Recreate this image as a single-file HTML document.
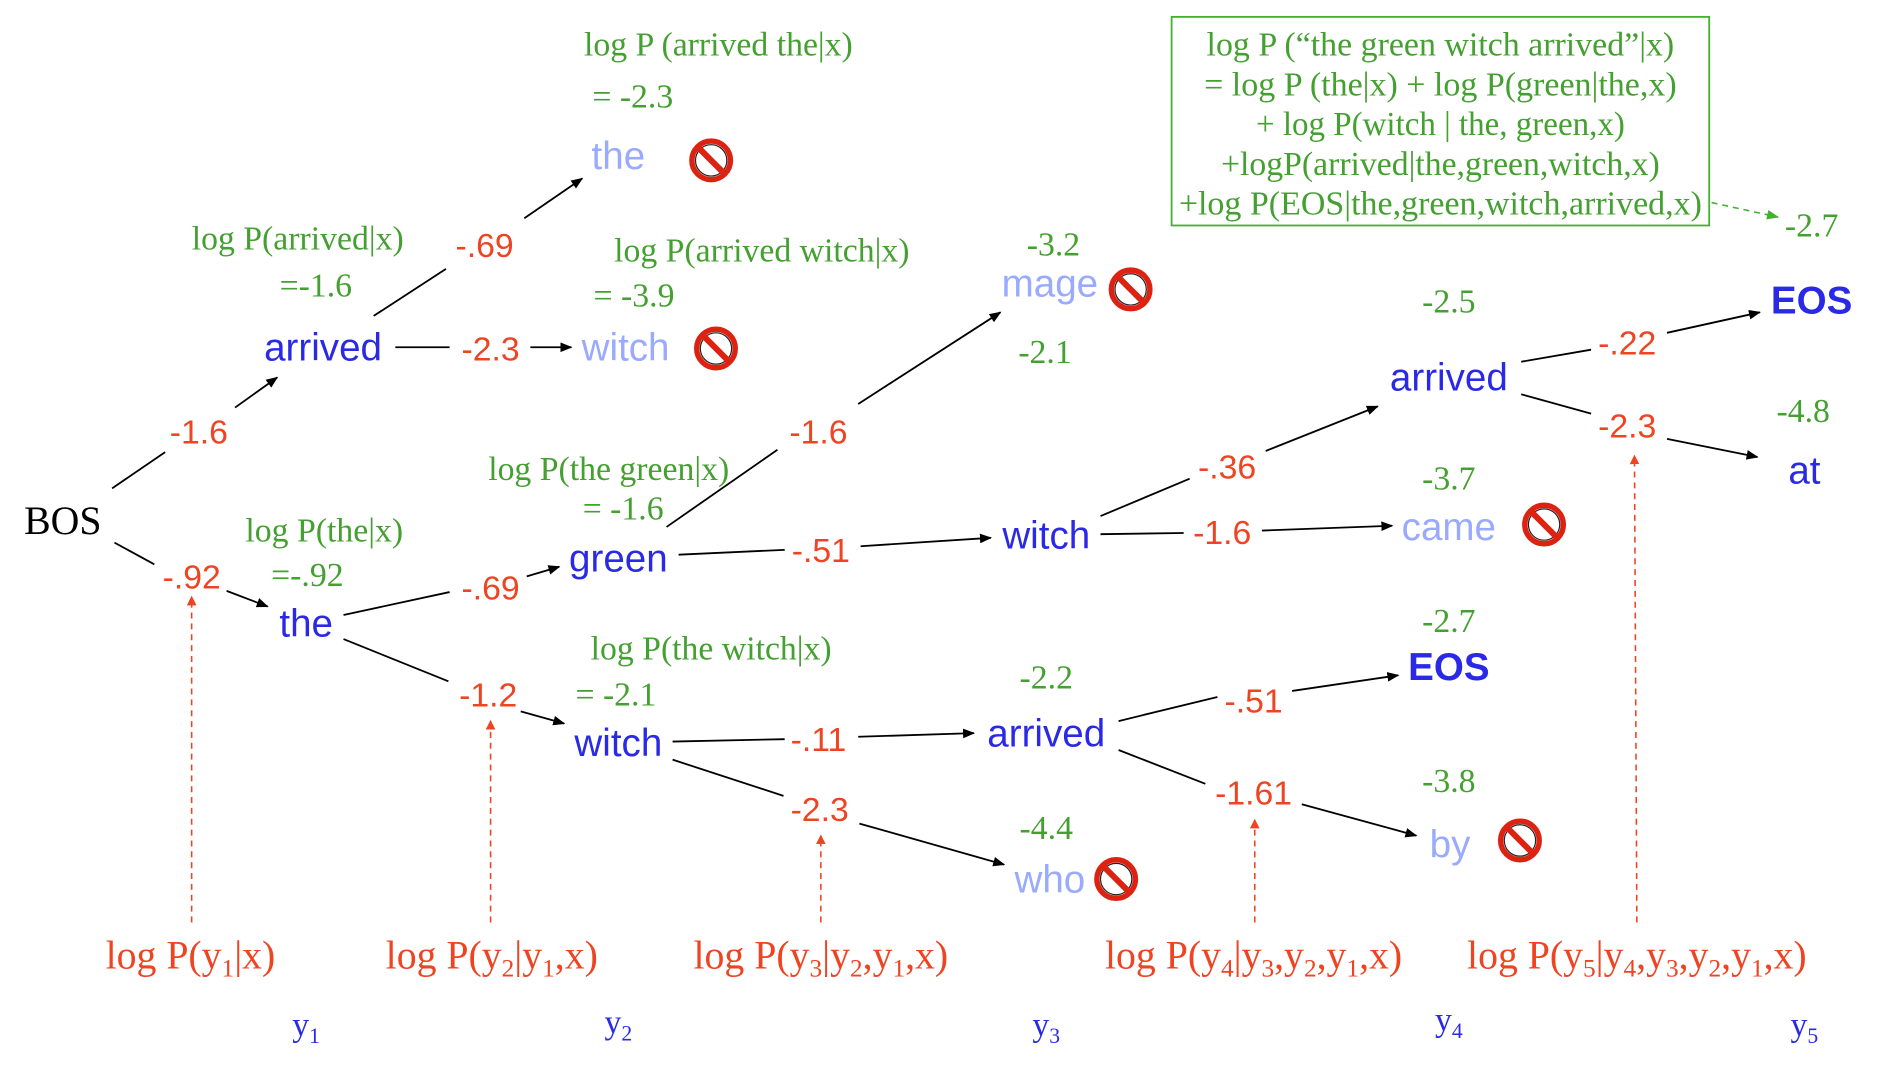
<!DOCTYPE html>
<html><head><meta charset="utf-8"><style>
html,body{margin:0;padding:0;background:#fff;}
svg{display:block;}
.n{font-family:"Liberation Sans",sans-serif;font-size:32px;fill:#2a2ae6;text-anchor:middle;}
.l{fill:#99aaff;}
.b{font-weight:bold;}
.r{font-family:"Liberation Sans",sans-serif;font-size:28px;fill:#ee4422;text-anchor:middle;}
.g{font-family:"Liberation Serif",serif;font-size:28px;fill:#44a030;text-anchor:middle;}
.rb{font-family:"Liberation Serif",serif;font-size:33px;fill:#ee4422;text-anchor:middle;}
.y{font-family:"Liberation Serif",serif;font-size:28px;fill:#2a2ae6;text-anchor:middle;}
.e{stroke:#000;stroke-width:1.5;fill:none;}
.a{stroke:#000;stroke-width:1.5;fill:none;marker-end:url(#ah);}
.d{stroke:#ee4422;stroke-width:1.3;stroke-dasharray:5,4;fill:none;marker-end:url(#ahr);}
</style></head><body>
<svg width="1890" height="1078" viewBox="0 0 1568 894" preserveAspectRatio="none" xmlns="http://www.w3.org/2000/svg">
<defs>
<marker id="ah" markerWidth="10" markerHeight="8" refX="9" refY="4" orient="auto" markerUnits="userSpaceOnUse"><path d="M0,0 L10,4 L0,8 Z" fill="#000"/></marker>
<marker id="ahr" markerWidth="8" markerHeight="8" refX="7" refY="4" orient="auto" markerUnits="userSpaceOnUse"><path d="M0,0 L8,4 L0,8 Z" fill="#ee4422"/></marker>
<marker id="ahg" markerWidth="10" markerHeight="8" refX="9" refY="4" orient="auto" markerUnits="userSpaceOnUse"><path d="M0,0 L10,4 L0,8 Z" fill="#44b030"/></marker>
<g id="no"><circle r="16" fill="#fff" stroke="#dd2211" stroke-width="4.5"/><circle r="13" fill="none" stroke="#222" stroke-width="1"/><line x1="-10" y1="-10" x2="10" y2="10" stroke="#dd2211" stroke-width="5"/></g>
</defs>

<line class="e" x1="93" y1="405" x2="137" y2="375"/><line class="a" x1="195" y1="338" x2="230" y2="313"/>
<line class="e" x1="95" y1="450" x2="128" y2="468"/><line class="a" x1="188" y1="490" x2="222" y2="503"/>
<line class="e" x1="310" y1="262" x2="370" y2="223"/><line class="a" x1="435" y1="181" x2="483" y2="148"/>
<line class="e" x1="328" y1="288" x2="373" y2="288"/><line class="a" x1="440" y1="288" x2="474" y2="288"/>
<line class="e" x1="285" y1="510" x2="373" y2="491"/><line class="a" x1="437" y1="478" x2="464" y2="470"/>
<line class="e" x1="285" y1="530" x2="372" y2="565"/><line class="a" x1="432" y1="590" x2="468" y2="600"/>
<line class="e" x1="553" y1="437" x2="645" y2="373"/><line class="a" x1="712" y1="335" x2="830" y2="259"/>
<line class="e" x1="563" y1="460" x2="651" y2="456"/><line class="a" x1="714" y1="453" x2="822" y2="446"/>
<line class="e" x1="558" y1="615" x2="651" y2="613"/><line class="a" x1="712" y1="611" x2="808" y2="608"/>
<line class="e" x1="558" y1="630" x2="650" y2="660"/><line class="a" x1="713" y1="683" x2="833" y2="717"/>
<line class="e" x1="913" y1="428" x2="987" y2="397"/><line class="a" x1="1050" y1="374" x2="1143" y2="337"/>
<line class="e" x1="913" y1="443" x2="982" y2="442"/><line class="a" x1="1047" y1="440" x2="1155" y2="436"/>
<line class="e" x1="928" y1="598" x2="1010" y2="578"/><line class="a" x1="1072" y1="573" x2="1160" y2="560"/>
<line class="e" x1="928" y1="622" x2="1000" y2="650"/><line class="a" x1="1080" y1="667" x2="1175" y2="693"/>
<line class="e" x1="1262" y1="300" x2="1320" y2="290"/><line class="a" x1="1383" y1="276" x2="1460" y2="259"/>
<line class="e" x1="1262" y1="327" x2="1320" y2="343"/><line class="a" x1="1383" y1="364" x2="1458" y2="379"/>
<line x1="1420" y1="168" x2="1475" y2="180" stroke="#44b030" stroke-width="1.3" stroke-dasharray="5,4" marker-end="url(#ahg)"/>

<line class="d" x1="159" y1="765" x2="159" y2="495"/>
<line class="d" x1="407" y1="765" x2="407" y2="598"/>
<line class="d" x1="681" y1="765" x2="681" y2="693"/>
<line class="d" x1="1041" y1="765" x2="1041" y2="680"/>
<line class="d" x1="1358" y1="765" x2="1356" y2="378"/>

<text x="20" y="443" font-family="Liberation Serif,serif" font-size="33" fill="#000">BOS</text>
<text class="n" x="268" y="299">arrived</text>
<text class="n" x="254" y="528">the</text>
<text class="n l" x="513" y="140">the</text>
<text class="n l" x="519" y="299">witch</text>
<text class="n" x="513" y="474">green</text>
<text class="n" x="513" y="627">witch</text>
<text class="n l" x="871" y="246">mage</text>
<text class="n" x="868" y="455">witch</text>
<text class="n" x="868" y="619">arrived</text>
<text class="n l" x="871" y="740">who</text>
<text class="n" x="1202" y="324">arrived</text>
<text class="n l" x="1202" y="448">came</text>
<text class="n b" x="1202" y="564">EOS</text>
<text class="n l" x="1203" y="711">by</text>
<text class="n b" x="1503" y="260">EOS</text>
<text class="n" x="1497" y="401">at</text>

<use href="#no" x="590" y="133"/><use href="#no" x="594" y="289"/><use href="#no" x="938" y="240"/>
<use href="#no" x="1281" y="435"/><use href="#no" x="926" y="729"/><use href="#no" x="1261" y="697"/>

<text class="r" x="165" y="368">-1.6</text>
<text class="r" x="159" y="488">-.92</text>
<text class="r" x="402" y="213">-.69</text>
<text class="r" x="407" y="299">-2.3</text>
<text class="r" x="407" y="497">-.69</text>
<text class="r" x="405" y="586">-1.2</text>
<text class="r" x="679" y="368">-1.6</text>
<text class="r" x="681" y="466">-.51</text>
<text class="r" x="679" y="623">-.11</text>
<text class="r" x="680" y="681">-2.3</text>
<text class="r" x="1018" y="397">-.36</text>
<text class="r" x="1014" y="451">-1.6</text>
<text class="r" x="1040" y="591">-.51</text>
<text class="r" x="1040" y="667">-1.61</text>
<text class="r" x="1350" y="294">-.22</text>
<text class="r" x="1350" y="363">-2.3</text>

<text class="g" x="596" y="46">log P (arrived the|x)</text>
<text class="g" x="525" y="89">= -2.3</text>
<text class="g" x="247" y="207">log P(arrived|x)</text>
<text class="g" x="262" y="246">=-1.6</text>
<text class="g" x="632" y="217">log P(arrived witch|x)</text>
<text class="g" x="526" y="254">= -3.9</text>
<text class="g" x="874" y="212">-3.2</text>
<text class="g" x="867" y="301">-2.1</text>
<text class="g" x="505" y="398">log P(the green|x)</text>
<text class="g" x="517" y="431">= -1.6</text>
<text class="g" x="269" y="449">log P(the|x)</text>
<text class="g" x="255" y="486">=-.92</text>
<text class="g" x="590" y="547">log P(the witch|x)</text>
<text class="g" x="511" y="585">= -2.1</text>
<text class="g" x="868" y="571">-2.2</text>
<text class="g" x="868" y="696">-4.4</text>
<text class="g" x="1202" y="259">-2.5</text>
<text class="g" x="1202" y="406">-3.7</text>
<text class="g" x="1202" y="524">-2.7</text>
<text class="g" x="1202" y="657">-3.8</text>
<text class="g" x="1496" y="350">-4.8</text>
<text class="g" x="1503" y="196">-2.7</text>

<rect x="972" y="14" width="446" height="173" fill="none" stroke="#44b030" stroke-width="1.5"/>
<text class="g" x="1195" y="46" textLength="388" lengthAdjust="spacingAndGlyphs">log P (“the green witch arrived”|x)</text>
<text class="g" x="1195" y="79" textLength="392" lengthAdjust="spacingAndGlyphs">= log P (the|x) + log P(green|the,x)</text>
<text class="g" x="1195" y="112" textLength="306" lengthAdjust="spacingAndGlyphs">+ log P(witch | the, green,x)</text>
<text class="g" x="1195" y="145" textLength="364" lengthAdjust="spacingAndGlyphs">+logP(arrived|the,green,witch,x)</text>
<text class="g" x="1195" y="178" textLength="434" lengthAdjust="spacingAndGlyphs">+log P(EOS|the,green,witch,arrived,x)</text>

<text class="rb" x="158" y="803">log P(y<tspan font-size="21" dy="7">1</tspan><tspan dy="-7">|x)</tspan></text>
<text class="rb" x="408" y="803">log P(y<tspan font-size="21" dy="7">2</tspan><tspan dy="-7">|y</tspan><tspan font-size="21" dy="7">1</tspan><tspan dy="-7">,x)</tspan></text>
<text class="rb" x="681" y="803">log P(y<tspan font-size="21" dy="7">3</tspan><tspan dy="-7">|y</tspan><tspan font-size="21" dy="7">2</tspan><tspan dy="-7">,y</tspan><tspan font-size="21" dy="7">1</tspan><tspan dy="-7">,x)</tspan></text>
<text class="rb" x="1040" y="803">log P(y<tspan font-size="21" dy="7">4</tspan><tspan dy="-7">|y</tspan><tspan font-size="21" dy="7">3</tspan><tspan dy="-7">,y</tspan><tspan font-size="21" dy="7">2</tspan><tspan dy="-7">,y</tspan><tspan font-size="21" dy="7">1</tspan><tspan dy="-7">,x)</tspan></text>
<text class="rb" x="1358" y="803">log P(y<tspan font-size="21" dy="7">5</tspan><tspan dy="-7">|y</tspan><tspan font-size="21" dy="7">4</tspan><tspan dy="-7">,y</tspan><tspan font-size="21" dy="7">3</tspan><tspan dy="-7">,y</tspan><tspan font-size="21" dy="7">2</tspan><tspan dy="-7">,y</tspan><tspan font-size="21" dy="7">1</tspan><tspan dy="-7">,x)</tspan></text>

<text class="y" x="254" y="859">y<tspan font-size="18" dy="6">1</tspan></text>
<text class="y" x="513" y="857">y<tspan font-size="18" dy="6">2</tspan></text>
<text class="y" x="868" y="859">y<tspan font-size="18" dy="6">3</tspan></text>
<text class="y" x="1202" y="855">y<tspan font-size="18" dy="6">4</tspan></text>
<text class="y" x="1497" y="859">y<tspan font-size="18" dy="6">5</tspan></text>
</svg>
</body></html>
